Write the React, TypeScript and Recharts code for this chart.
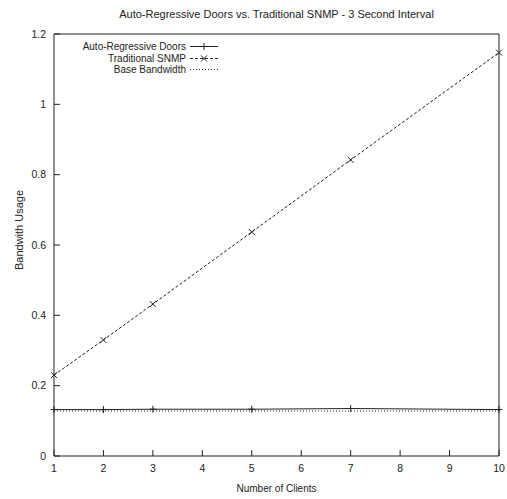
import React from 'react';
import { LineChart, Line, XAxis, YAxis } from 'recharts';

const clients = [1, 2, 3, 5, 7, 10];
const autoRegressive = [0.132, 0.132, 0.133, 0.133, 0.135, 0.132];
const traditionalSnmp = [0.23, 0.33, 0.432, 0.637, 0.842, 1.147];
const baseBandwidth = [0.128, 0.128, 0.128, 0.128, 0.128, 0.128];
const xTicks = [1, 2, 3, 4, 5, 6, 7, 8, 9, 10];
const yTicks = [0, 0.2, 0.4, 0.6, 0.8, 1, 1.2];

const seriesNames = ['Auto-Regressive Doors', 'Traditional SNMP', 'Base Bandwidth'];

const data = clients.map((c, i) => ({
  clients: c,
  ar: autoRegressive[i],
  snmp: traditionalSnmp[i],
  base: baseBandwidth[i],
}));

const FONT = "'Liberation Sans Narrow', 'Arial Narrow', 'Liberation Sans', sans-serif";
const INK = '#222';

const PlusDot = (props: any) => {
  const { cx, cy, index } = props;
  if (cx == null || cy == null) return null;
  return (
    <path key={`p${index}`} d={`M${cx - 3.5},${cy}H${cx + 3.5}M${cx},${cy - 3.5}V${cy + 3.5}`} stroke={INK} strokeWidth={1} fill="none" />
  );
};

const CrossDot = (props: any) => {
  const { cx, cy, index } = props;
  if (cx == null || cy == null) return null;
  return (
    <path key={`x${index}`} d={`M${cx - 3},${cy - 3}L${cx + 3},${cy + 3}M${cx - 3},${cy + 3}L${cx + 3},${cy - 3}`} stroke={INK} strokeWidth={1} fill="none" />
  );
};

const LegendBox = () => {
  const rows = [
    { name: seriesNames[0], dash: undefined, marker: 'plus' },
    { name: seriesNames[1], dash: '3 2', marker: 'cross' },
    { name: seriesNames[2], dash: '1 2', marker: 'none' },
  ];
  return (
    <div style={{ position: 'absolute', left: 40, top: 41, width: 179, fontFamily: FONT, fontSize: 10, color: INK }}>
      {rows.map((r) => (
        <div key={r.name} style={{ display: 'flex', alignItems: 'center', justifyContent: 'flex-end', height: 11.5 }}>
          <span style={{ lineHeight: '11.5px' }}>{r.name}</span>
          <svg width={30} height={11} style={{ marginLeft: 3 }}>
            <line x1={1} y1={5.5} x2={29} y2={5.5} stroke={INK} strokeWidth={1} strokeDasharray={r.dash} />
            {r.marker === 'plus' && <path d="M15,2V9M11.5,5.5H18.5" stroke={INK} strokeWidth={1} />}
            {r.marker === 'cross' && <path d="M12,2.5L18,8.5M12,8.5L18,2.5" stroke={INK} strokeWidth={1} />}
          </svg>
        </div>
      ))}
    </div>
  );
};

export default function App() {
  return (
    <div style={{ position: 'absolute', left: 0, top: 0, width: 507, height: 499, background: '#fff' }}>
      <div
        style={{
          position: 'absolute',
          left: 54,
          width: 445,
          top: 7,
          textAlign: 'center',
          fontFamily: FONT,
          fontSize: 11,
          color: INK,
          lineHeight: '14px',
        }}
      >
        Auto-Regressive Doors vs. Traditional SNMP - 3 Second Interval
      </div>
      <div
        style={{
          position: 'absolute',
          left: 19,
          top: 230,
          transform: 'translate(-50%, -50%) rotate(-90deg)',
          whiteSpace: 'nowrap',
          fontFamily: FONT,
          fontSize: 11,
          color: INK,
          lineHeight: '12px',
        }}
      >
        Bandwith Usage
      </div>
      <LineChart width={507} height={499} data={data} margin={{ top: 33, right: 7, left: 0, bottom: 3 }}>
        <XAxis
          xAxisId="bottom"
          dataKey="clients"
          type="number"
          domain={[1, 10]}
          ticks={xTicks}
          orientation="bottom"
          height={40}
          tickSize={-6}
          tickMargin={15}
          interval={0}
          stroke={INK}
          tick={{ fill: INK, fontSize: 10.5, fontFamily: FONT }}
          label={{ value: 'Number of Clients', position: 'insideBottom', offset: 4, fill: INK, fontSize: 10, fontFamily: FONT }}
        />
        <XAxis
          xAxisId="top"
          dataKey="clients"
          type="number"
          domain={[1, 10]}
          ticks={xTicks}
          orientation="top"
          height={1}
          tickSize={-6}
          interval={0}
          stroke={INK}
          tick={false}
        />
        <YAxis
          yAxisId="left"
          type="number"
          domain={[0, 1.2]}
          ticks={yTicks}
          width={54}
          tickSize={-6}
          tickMargin={14}
          interval={0}
          stroke={INK}
          tick={{ fill: INK, fontSize: 10.5, fontFamily: FONT }}
        />
        <YAxis
          yAxisId="right"
          orientation="right"
          type="number"
          domain={[0, 1.2]}
          ticks={yTicks}
          width={1}
          tickSize={-6}
          interval={0}
          stroke={INK}
          tick={false}
        />
        <Line xAxisId="bottom" yAxisId="left" dataKey="base" stroke={INK} strokeWidth={1} strokeDasharray="1 2" dot={false} isAnimationActive={false} name={seriesNames[2]} />
        <Line xAxisId="bottom" yAxisId="left" dataKey="ar" stroke={INK} strokeWidth={1} dot={PlusDot} isAnimationActive={false} name={seriesNames[0]} />
        <Line xAxisId="bottom" yAxisId="left" dataKey="snmp" stroke={INK} strokeWidth={1} strokeDasharray="3 2" dot={CrossDot} isAnimationActive={false} name={seriesNames[1]} />
        <Line xAxisId="top" yAxisId="right" dataKey="snmp" stroke="none" dot={false} activeDot={false} legendType="none" isAnimationActive={false} />
      </LineChart>
      <LegendBox />
    </div>
  );
}
